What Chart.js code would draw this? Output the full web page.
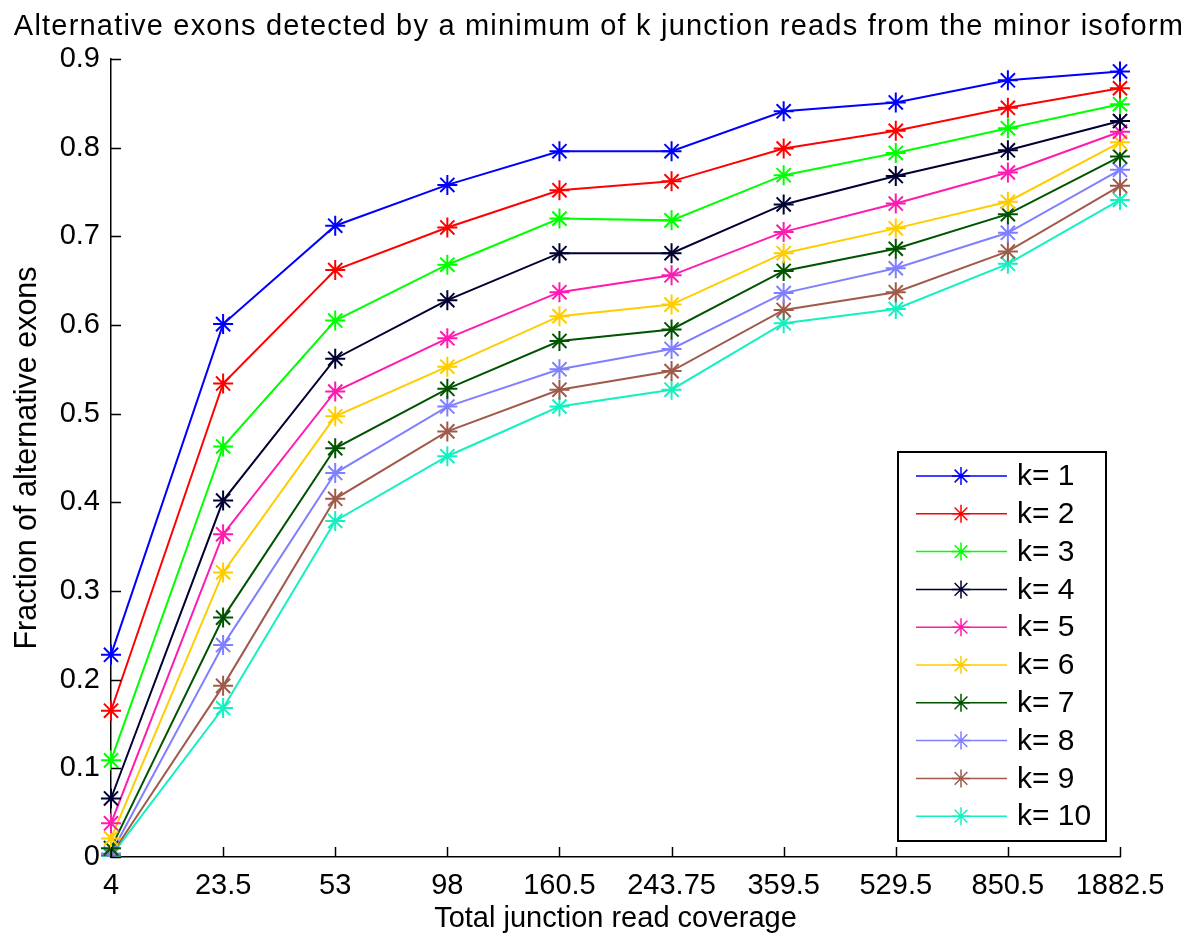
<!DOCTYPE html>
<html>
<head>
<meta charset="utf-8">
<title>Alternative exons by junction reads</title>
<script src="https://cdn.jsdelivr.net/npm/chart.js@4.4.1/dist/chart.umd.min.js"></script>
<style>
  html, body { margin: 0; padding: 0; background: #fff; }
  canvas { display: block; }
</style>
</head>
<body>
<canvas id="exonChart" width="1202" height="942"></canvas>
<script>
// coverage bins on the x axis
const coverageBins = ['4', '23.5', '53', '98', '160.5', '243.75', '359.5', '529.5', '850.5', '1882.5'];
const yTickLabels = ['0', '0.1', '0.2', '0.3', '0.4', '0.5', '0.6', '0.7', '0.8', '0.9'];

// fraction of alternative exons, one array per minimum read count k
const k1 = [0.228, 0.601, 0.712, 0.758, 0.796, 0.796, 0.841, 0.851, 0.876, 0.886];
const k2 = [0.165, 0.534, 0.662, 0.710, 0.752, 0.762, 0.799, 0.819, 0.845, 0.867];
const k3 = [0.109, 0.463, 0.605, 0.668, 0.720, 0.718, 0.769, 0.794, 0.822, 0.849];
const k4 = [0.066, 0.402, 0.562, 0.628, 0.681, 0.681, 0.736, 0.768, 0.797, 0.830];
const k5 = [0.038, 0.364, 0.525, 0.585, 0.637, 0.656, 0.705, 0.737, 0.772, 0.818];
const k6 = [0.021, 0.321, 0.497, 0.553, 0.610, 0.623, 0.681, 0.709, 0.739, 0.806];
const k7 = [0.010, 0.270, 0.461, 0.528, 0.582, 0.595, 0.661, 0.686, 0.725, 0.790];
const k8 = [0.004, 0.239, 0.433, 0.508, 0.550, 0.573, 0.636, 0.664, 0.704, 0.775];
const k9 = [0.002, 0.193, 0.404, 0.480, 0.527, 0.548, 0.617, 0.637, 0.683, 0.757];
const k10 = [0.001, 0.168, 0.379, 0.452, 0.508, 0.527, 0.602, 0.618, 0.669, 0.741];

const seriesNames = ['k= 1', 'k= 2', 'k= 3', 'k= 4', 'k= 5', 'k= 6', 'k= 7', 'k= 8', 'k= 9', 'k= 10'];
const seriesValues = [k1, k2, k3, k4, k5, k6, k7, k8, k9, k10];
const seriesColors = ['#0000ff', '#ff0000', '#00ff00', '#000033', '#ff1ab0',
                      '#ffcc00', '#005400', '#8080ff', '#a05a4a', '#14f0c0'];

const FONT = '"Liberation Sans", Arial, Helvetica, sans-serif';

// title drawn above the axes
const titlePlugin = {
    id: 'plotTitle',
    afterDraw(chart) {
        const ctx = chart.ctx;
        ctx.save();
        ctx.fillStyle = '#000';
        ctx.font = '29px ' + FONT;
        ctx.letterSpacing = '1.2px';
        ctx.textAlign = 'center';
        ctx.textBaseline = 'alphabetic';
        ctx.fillText('Alternative exons detected by a minimum of k junction reads from the minor isoform', 599, 35);
        ctx.restore();
    }
};

// inward tick marks like the original figure
const inwardTicks = {
    id: 'inwardTicks',
    afterDraw(chart) {
        const ctx = chart.ctx;
        const xs = chart.scales.x;
        const ys = chart.scales.y;
        const len = 10;
        ctx.save();
        ctx.strokeStyle = '#000';
        ctx.lineWidth = 1.5;
        ctx.beginPath();
        xs.ticks.forEach((t, i) => {
            const px = Math.round(xs.getPixelForTick(i)) + 0.5;
            ctx.moveTo(px, ys.bottom);
            ctx.lineTo(px, ys.bottom - len);
        });
        ys.ticks.forEach((t, i) => {
            const py = Math.round(ys.getPixelForTick(i)) + 0.5;
            ctx.moveTo(xs.left, py);
            ctx.lineTo(xs.left + len, py);
        });
        ctx.stroke();
        ctx.restore();
    }
};

// boxed legend inside the plot area, lower right
const boxLegend = {
    id: 'boxLegend',
    afterDraw(chart) {
        const ctx = chart.ctx;
        const left = 898, top = 452, right = 1106, bottom = 841;
        const rowH = 37.8, firstRow = 476;
        ctx.save();
        ctx.fillStyle = '#fff';
        ctx.fillRect(left, top, right - left, bottom - top);
        ctx.strokeStyle = '#000';
        ctx.lineWidth = 2;
        ctx.strokeRect(left, top, right - left, bottom - top);
        chart.data.datasets.forEach((ds, i) => {
            const y = firstRow + i * rowH;
            ctx.strokeStyle = ds.borderColor;
            ctx.lineWidth = 1.5;
            ctx.beginPath();
            ctx.moveTo(916, y);
            ctx.lineTo(1007, y);
            ctx.stroke();
            Chart.helpers.drawPoint(ctx, { pointStyle: 'star', radius: 9, borderWidth: 1.5 }, 961, y);
            ctx.fillStyle = '#000';
            ctx.font = '30px ' + FONT;
            ctx.textAlign = 'left';
            ctx.textBaseline = 'middle';
            ctx.fillText(ds.label, 1017, y + 1);
        });
        ctx.restore();
    }
};

const ctx = document.getElementById('exonChart').getContext('2d');
const exonChart = new Chart(ctx, {
    type: 'line',
    data: {
        labels: coverageBins,
        datasets: seriesValues.map((vals, i) => ({
            label: seriesNames[i],
            data: vals,
            borderColor: seriesColors[i],
            backgroundColor: seriesColors[i],
            borderWidth: 2,
            fill: false,
            tension: 0,
            pointStyle: 'star',
            pointRadius: 10,
            pointBorderWidth: 2,
            pointBorderColor: seriesColors[i],
            pointHoverRadius: 10
        }))
    },
    options: {
        responsive: false,
        animation: false,
        layout: {
            padding: { left: 0, right: 82, top: 59, bottom: 0 }
        },
        plugins: {
            legend: { display: false },
            tooltip: { enabled: false },
            title: { display: false }
        },
        scales: {
            x: {
                type: 'category',
                offset: false,
                grid: { display: false, drawTicks: false },
                border: { display: true, color: '#000', width: 1.5 },
                ticks: {
                    color: '#000',
                    font: { family: FONT, size: 29 },
                    padding: 12,
                    maxRotation: 0,
                    autoSkip: false
                },
                title: {
                    display: true,
                    text: 'Total junction read coverage',
                    color: '#000',
                    font: { family: FONT, size: 29, lineHeight: 1 },
                    padding: { top: 0, bottom: 8.5 }
                },
                afterFit(scale) { scale.height = 85; }
            },
            y: {
                min: 0,
                max: 0.9,
                grid: { display: false, drawTicks: false },
                border: { display: true, color: '#000', width: 1.5 },
                ticks: {
                    stepSize: 0.1,
                    color: '#000',
                    font: { family: FONT, size: 29 },
                    padding: 11,
                    callback: (v, i) => yTickLabels[i]
                },
                title: {
                    display: true,
                    text: 'Fraction of alternative exons',
                    color: '#000',
                    font: { family: FONT, size: 30.5, lineHeight: 1 },
                    padding: { top: 12, bottom: 0 }
                },
                afterFit(scale) { scale.width = 111; }
            }
        }
    },
    plugins: [titlePlugin, inwardTicks, boxLegend]
});
</script>
</body>
</html>
